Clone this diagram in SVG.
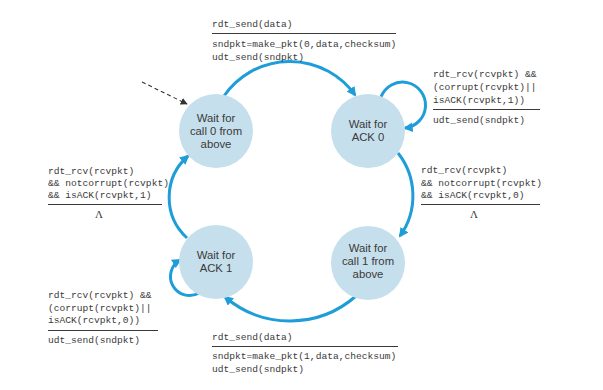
<svg xmlns="http://www.w3.org/2000/svg" width="603" height="390" viewBox="0 0 603 390">
<defs>
<style>
.state{fill:#c6dfec;}
.st{font-family:"Liberation Sans","Open Sans",sans-serif;font-size:11.3px;fill:#3a3a3a;text-anchor:middle;}
.lbl{font-family:"Liberation Mono","Courier New",monospace;font-size:9.6px;fill:#3a3a3a;}
.lam{font-family:"Liberation Serif",serif;font-size:11px;fill:#3a3a3a;text-anchor:middle;}
.rule{stroke:#3a3a3a;stroke-width:1;}
.edge{fill:none;stroke:#1e9dd8;stroke-width:3;}
</style>
<marker id="ah" viewBox="0 0 10 10" refX="8" refY="5" markerWidth="3.2" markerHeight="3.2" orient="auto" markerUnits="strokeWidth">
<path d="M0,0 L10,5 L0,10 z" fill="#1e9dd8"/>
</marker>
<marker id="ahd" viewBox="0 0 10 10" refX="9" refY="5" markerWidth="7" markerHeight="7" orient="auto" markerUnits="userSpaceOnUse">
<path d="M0,0 L10,5 L0,10 z" fill="#333"/>
</marker>
</defs>
<rect width="603" height="390" fill="#ffffff"/>
<g id="connectors">
<path class="edge" d="M224,96 A80,80 0 0 1 355,95" marker-end="url(#ah)"/>
<path class="edge" d="M398,153 A69,69 0 0 1 400,236" marker-end="url(#ah)"/>
<path class="edge" d="M356,296 A100,100 0 0 1 225,297" marker-end="url(#ah)"/>
<path class="edge" d="M187,238 A55,55 0 0 1 188,156" marker-end="url(#ah)"/>
<path class="edge" d="M381,97 A23,23 0 1 1 405,128" marker-end="url(#ah)"/>
<path class="edge" d="M199,293 A19,19 0 1 1 180,260" marker-end="url(#ah)"/>
<path d="M142,82 L187,104" fill="none" stroke="#333" stroke-width="1.1" stroke-dasharray="4,3" marker-end="url(#ahd)"/>
</g>
<g id="call0">
<circle class="state" cx="216" cy="131" r="37"/>
<text class="st" x="216" y="121.5">Wait for</text>
<text class="st" x="216" y="134.5">call 0 from</text>
<text class="st" x="216" y="147.5">above</text>
</g>
<g id="ack0">
<circle class="state" cx="368" cy="131" r="37"/>
<text class="st" x="368" y="128">Wait for</text>
<text class="st" x="368" y="141">ACK 0</text>
</g>
<g id="ack1">
<circle class="state" cx="216" cy="262" r="37"/>
<text class="st" x="216" y="259">Wait for</text>
<text class="st" x="216" y="272">ACK 1</text>
</g>
<g id="call1">
<circle class="state" cx="368" cy="263" r="37"/>
<text class="st" x="368" y="251.5">Wait for</text>
<text class="st" x="368" y="264.5">call 1 from</text>
<text class="st" x="368" y="277.5">above</text>
</g>
<g id="label-top">
<text class="lbl" x="212" y="27">rdt_send(data)</text>
<line class="rule" x1="212" y1="33.5" x2="396" y2="33.5"/>
<text class="lbl" x="212" y="47">sndpkt=make_pkt(0,data,checksum)</text>
<text class="lbl" x="212" y="60">udt_send(sndpkt)</text>
</g>
<g id="label-ack0-loop">
<text class="lbl" x="433" y="77">rdt_rcv(rcvpkt) &amp;&amp;</text>
<text class="lbl" x="433" y="90">(corrupt(rcvpkt)||</text>
<text class="lbl" x="433" y="103">isACK(rcvpkt,1))</text>
<line class="rule" x1="433" y1="109.5" x2="540" y2="109.5"/>
<text class="lbl" x="433" y="123">udt_send(sndpkt)</text>
</g>
<g id="label-right">
<text class="lbl" x="421" y="173">rdt_rcv(rcvpkt)</text>
<text class="lbl" x="421" y="186">&amp;&amp; notcorrupt(rcvpkt)</text>
<text class="lbl" x="421" y="198">&amp;&amp; isACK(rcvpkt,0)</text>
<line class="rule" x1="421" y1="204.5" x2="540" y2="204.5"/>
<text class="lam" x="474" y="218">Λ</text>
</g>
<g id="label-left">
<text class="lbl" x="48" y="174">rdt_rcv(rcvpkt)</text>
<text class="lbl" x="48" y="186">&amp;&amp; notcorrupt(rcvpkt)</text>
<text class="lbl" x="48" y="198">&amp;&amp; isACK(rcvpkt,1)</text>
<line class="rule" x1="48" y1="204.5" x2="162" y2="204.5"/>
<text class="lam" x="99" y="218">Λ</text>
</g>
<g id="label-ack1-loop">
<text class="lbl" x="48" y="298">rdt_rcv(rcvpkt) &amp;&amp;</text>
<text class="lbl" x="48" y="311">(corrupt(rcvpkt)||</text>
<text class="lbl" x="48" y="323">isACK(rcvpkt,0))</text>
<line class="rule" x1="48" y1="330.5" x2="158" y2="330.5"/>
<text class="lbl" x="48" y="343">udt_send(sndpkt)</text>
</g>
<g id="label-bottom">
<text class="lbl" x="212" y="340">rdt_send(data)</text>
<line class="rule" x1="212" y1="346.5" x2="398" y2="346.5"/>
<text class="lbl" x="212" y="359">sndpkt=make_pkt(1,data,checksum)</text>
<text class="lbl" x="212" y="372">udt_send(sndpkt)</text>
</g>
</svg>
